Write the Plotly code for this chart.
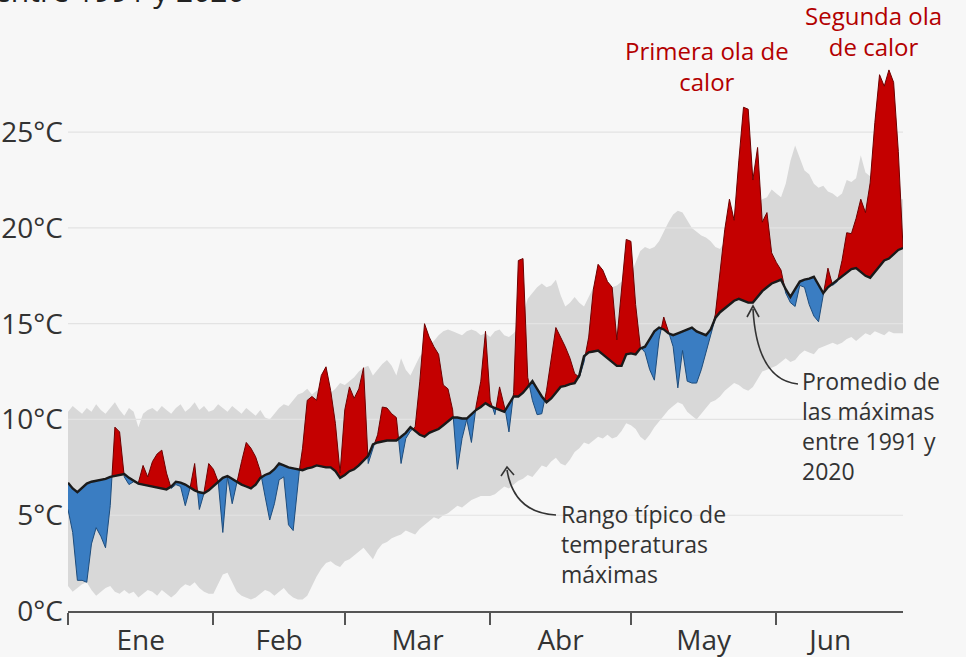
import numpy as np
import plotly.graph_objects as go

# ---------------- data ----------------
months = ["Ene", "Feb", "Mar", "Abr", "May", "Jun"]
month_start_day = [0, 31, 59, 90, 120, 151]
month_label_day = [15.5, 45, 74.5, 105, 135.5, 162.5]
y_ticks = [0, 5, 10, 15, 20, 25]
y_tick_labels = ["0°C", "5°C", "10°C", "15°C", "20°C", "25°C"]

# daily mean of maximum temperatures 1991-2020 (°C)
mean_max = [
    6.7, 6.4, 6.2, 6.4, 6.65, 6.75, 6.8, 6.85, 6.9, 7.0,
    7.05, 7.1, 7.15, 6.95, 6.8, 6.65, 6.6, 6.55, 6.5, 6.45,
    6.4, 6.35, 6.5, 6.75, 6.7, 6.6, 6.45, 6.3, 6.2, 6.15,
    6.3, 6.5, 6.75, 6.95, 7.05, 6.9, 6.75, 6.6, 6.5, 6.4,
    6.6, 6.95, 7.1, 7.2, 7.4, 7.7, 7.6, 7.5, 7.45, 7.4,
    7.35, 7.45, 7.5, 7.6, 7.55, 7.5, 7.5, 7.3, 6.95, 7.1,
    7.3, 7.4, 7.6, 7.85, 8.1, 8.7, 8.8, 8.85, 8.9, 8.9,
    8.9, 9.1, 9.3, 9.6, 9.4, 9.2, 9.1, 9.3, 9.4, 9.5,
    9.7, 9.9, 10.1, 10.1, 10.05, 10.05, 10.3, 10.5, 10.65, 10.85,
    10.7, 10.6, 10.5, 10.4, 10.8, 11.2, 11.2, 11.4, 11.7, 12.0,
    11.6, 11.2, 10.9, 11.1, 11.4, 11.7, 11.75, 11.85, 11.9, 12.3,
    13.3, 13.5, 13.55, 13.6, 13.4, 13.2, 13.0, 12.8, 12.8, 13.4,
    13.45, 13.4, 13.7, 13.8, 14.2, 14.6, 14.8, 14.7, 14.5, 14.4,
    14.5, 14.6, 14.7, 14.8, 14.6, 14.5, 14.4, 14.7, 15.3, 15.6,
    15.8, 16.0, 16.2, 16.3, 16.2, 16.1, 16.1, 16.4, 16.7, 16.9,
    17.1, 17.2, 17.3, 16.8, 16.4, 16.8, 17.2, 17.3, 17.35, 17.45,
    17.0, 16.6, 16.9, 17.1, 17.3, 17.5, 17.7, 17.85, 17.9, 17.7,
    17.5, 17.4, 17.7, 18.0, 18.3, 18.4, 18.6, 18.85, 18.95,
]

# daily maximum temperatures this year (°C)
actual_max = [
    5.3, 4.1, 1.6, 1.6, 1.5, 3.5, 4.35, 3.9, 3.3, 5.5,
    9.6, 9.35, 7.0, 6.6, 6.75, 6.7, 7.6, 7.0, 7.8, 8.2,
    8.4, 7.2, 6.4, 6.6, 6.5, 5.5, 6.4, 7.7, 5.3, 6.2,
    7.7, 7.4, 6.8, 4.1, 7.0, 5.6, 6.7, 7.8, 8.8, 8.5,
    8.05, 7.3, 6.0, 4.75, 5.6, 6.85, 7.0, 4.5, 4.2, 6.8,
    8.5, 11.0, 11.2, 11.0, 12.3, 12.75, 11.5, 9.8, 7.2, 10.5,
    11.7, 11.1, 11.6, 12.7, 7.7, 8.5, 9.2, 10.65, 10.6, 10.3,
    10.1, 7.7, 9.0, 9.4, 9.6, 12.0, 15.0, 14.3, 13.8, 13.4,
    11.8, 11.6, 10.5, 7.4, 9.0, 10.0, 8.8, 10.7, 12.0, 14.6,
    11.0, 10.25, 11.7, 10.8, 9.35, 11.4, 18.3, 18.4, 12.2, 11.0,
    10.25, 10.3, 11.5, 13.2, 14.8, 14.3, 13.8, 13.2, 12.4, 12.2,
    13.0, 14.3, 16.8, 18.1, 17.8, 17.2, 16.9, 14.15, 16.9, 19.4,
    19.3, 16.0, 13.8, 13.5, 12.6, 12.05, 14.2, 15.35, 14.6, 13.8,
    11.65, 13.6, 12.0, 11.9, 11.9, 12.6, 13.5, 14.4, 15.5, 17.8,
    19.9, 21.5, 20.4, 23.5, 26.3, 26.2, 22.5, 24.2, 20.3, 20.8,
    18.7, 18.2, 17.8, 16.6, 16.1, 15.9, 17.0, 16.9, 16.0, 15.4,
    15.1, 16.5, 17.9, 17.0, 17.2, 18.3, 19.75, 19.7, 20.5, 21.5,
    20.8, 22.35, 25.5, 28.0, 27.4, 28.25, 27.6, 24.0, 19.0,
]

# typical range of maximum temperatures (°C)
range_high = [
    10.4, 10.7, 10.5, 10.3, 10.6, 10.4, 10.8, 10.5, 10.3, 10.6, 10.9, 10.5, 10.2, 10.6, 10.4, 9.6,
    10.3, 10.5, 10.6, 10.4, 10.7, 10.5, 10.3, 10.6, 10.8, 10.4, 10.6, 10.9, 10.5, 10.7, 10.4,
    10.5, 10.8, 10.6, 10.4, 10.7, 10.5, 10.3, 10.6, 10.4, 10.2, 10.5, 10.1, 10.0, 10.3,
    10.6, 10.8, 10.7, 11.0, 11.3, 11.4, 11.6, 11.3, 11.5, 11.7, 11.5, 11.4, 11.6, 11.9,
    11.8, 12.0, 12.2, 12.5, 12.7, 12.8, 12.3, 12.6, 12.9, 13.1, 12.8, 12.3, 13.2, 12.6, 12.3, 12.8,
    13.3, 13.6, 13.9, 14.1, 14.4, 14.6, 14.7, 14.6, 14.5, 14.4, 14.6, 14.7, 14.6, 14.4, 14.5,
    14.3, 14.6, 14.7, 14.4, 14.3, 14.5, 14.8, 15.5, 16.3, 16.6, 16.9, 17.1, 16.9, 17.0, 17.3,
    16.5, 15.9, 16.1, 16.4, 16.1, 15.9, 16.4, 16.9, 16.8, 16.6, 16.7, 16.9, 17.0, 17.2, 17.4,
    17.6, 18.2, 18.8, 19.0, 18.9, 19.0, 19.3, 19.8, 20.3, 20.7, 20.9, 20.8, 20.4, 20.0, 19.8, 19.6,
    19.5, 19.3, 19.0, 18.9, 19.3, 19.8, 20.3, 20.5, 20.8, 21.0, 21.2, 21.3, 21.5, 21.6, 22.0,
    21.8, 21.6, 22.3, 23.5, 24.3, 23.6, 23.0, 22.8, 22.3, 22.1, 22.2, 21.9, 21.8, 21.6,
    21.8, 22.5, 22.4, 22.6, 23.8, 22.9, 22.7, 22.4, 22.0, 21.8, 21.7, 21.6, 21.5, 21.5,
]
range_low = [
    1.3, 1.0, 1.2, 1.4, 1.5, 1.1, 0.8, 1.0, 1.2, 1.3, 1.0, 0.9, 1.1, 0.9, 1.0, 0.7,
    0.9, 1.1, 1.0, 0.8, 1.1, 0.9, 0.7, 0.9, 1.2, 1.4, 1.3, 1.5, 1.2, 1.0, 0.9,
    0.9, 1.4, 1.9, 2.0, 1.5, 1.0, 0.8, 0.7, 0.6, 0.7, 0.9, 1.1, 1.0, 0.8,
    1.0, 1.2, 0.9, 0.7, 0.6, 0.6, 0.8, 1.3, 1.8, 2.2, 2.5, 2.6, 2.4, 2.3,
    2.6, 2.7, 2.9, 3.1, 3.3, 3.0, 2.7, 3.2, 3.5, 3.6, 3.8, 3.9, 4.0, 4.2, 4.1, 4.0,
    4.3, 4.5, 4.7, 4.9, 4.8, 5.0, 5.1, 5.3, 5.5, 5.4, 5.6, 5.8, 5.9, 6.0, 6.0,
    6.0, 6.1, 6.3, 6.5, 6.4, 6.6, 6.8, 6.9, 7.1, 7.0, 7.3, 7.6, 7.5, 7.8, 8.0,
    7.7, 7.6, 7.9, 8.3, 8.5, 8.8, 8.7, 8.9, 9.1, 9.0, 9.2, 9.0, 9.1, 9.4, 9.8,
    9.7, 9.5, 9.1, 8.9, 9.2, 9.6, 9.9, 10.2, 10.5, 10.7, 10.9, 10.8, 10.4, 10.2, 10.0, 10.3,
    10.6, 10.9, 11.0, 11.2, 11.5, 11.7, 11.9, 11.8, 11.6, 11.5, 11.7, 12.1, 12.5, 12.6, 12.7,
    12.8, 13.0, 13.2, 13.0, 13.1, 13.4, 13.6, 13.5, 13.4, 13.7, 13.8, 13.9, 14.0, 13.9,
    14.0, 14.2, 14.3, 14.1, 14.3, 14.5, 14.4, 14.6, 14.5, 14.4, 14.6, 14.5, 14.5, 14.5,
]

# ---------------- derived geometry ----------------
n = len(mean_max)
days = np.arange(n, dtype=float)
last_day = days[-1]

# insert the points where the daily value crosses the average so the fills split cleanly
xs, ms, acts = [], [], []
for i in range(n):
    xs.append(days[i]); ms.append(mean_max[i]); acts.append(actual_max[i])
    if i < n - 1:
        d0 = actual_max[i] - mean_max[i]
        d1 = actual_max[i + 1] - mean_max[i + 1]
        if d0 * d1 < 0:
            t = d0 / (d0 - d1)
            mv = mean_max[i] + t * (mean_max[i + 1] - mean_max[i])
            xs.append(days[i] + t); ms.append(mv); acts.append(mv)
xs = np.array(xs); ms = np.array(ms); acts = np.array(acts)
above = np.maximum(acts, ms)
below = np.minimum(acts, ms)

# ---------------- layout helpers (pixel -> data / paper) ----------------
W, H = 966, 657
L, R, T, B = 68, 63, 0, 46
plot_w = W - L - R
plot_h = H - T - B
Y_MAX = 31.9


def px_x(px):
    return (px - L) / plot_w * last_day


def px_y(py):
    return (H - B - py) / plot_h * Y_MAX


def paper_x(px):
    return (px - L) / plot_w


def paper_y(py):
    return (H - B - py) / plot_h


BG = "#f7f7f7"
GREY = "#d8d8d8"
RED = "#c40000"
BLUE = "#3a7dc2"
TXT = "#333333"
FONT = "Open Sans"

fig = go.Figure()

fig.add_trace(go.Scatter(x=days, y=range_low, mode="lines", line=dict(width=0),
                         hoverinfo="skip", showlegend=False))
fig.add_trace(go.Scatter(x=days, y=range_high, mode="lines", line=dict(width=0),
                         fill="tonexty", fillcolor=GREY, hoverinfo="skip", showlegend=False))

for v in y_ticks[1:]:
    fig.add_trace(go.Scatter(x=[0, last_day], y=[v, v], mode="lines",
                             line=dict(color="#e3e3e3", width=1.2),
                             hoverinfo="skip", showlegend=False))

fig.add_trace(go.Scatter(x=xs, y=ms, mode="lines", line=dict(width=0),
                         hoverinfo="skip", showlegend=False))
fig.add_trace(go.Scatter(x=xs, y=above, mode="lines", line=dict(color="#6e0000", width=1),
                         fill="tonexty", fillcolor=RED, hoverinfo="skip", showlegend=False))
fig.add_trace(go.Scatter(x=xs, y=ms, mode="lines", line=dict(width=0),
                         hoverinfo="skip", showlegend=False))
fig.add_trace(go.Scatter(x=xs, y=below, mode="lines", line=dict(color="#1d4c7c", width=1),
                         fill="tonexty", fillcolor=BLUE, hoverinfo="skip", showlegend=False))
fig.add_trace(go.Scatter(x=days, y=mean_max, mode="lines", line=dict(color="#1a1a1a", width=2.4),
                         hoverinfo="skip", showlegend=False))

# curved arrows
arrow_style = dict(color="#333333", width=1.6)
a1 = [(798, 384), (757, 380), (753, 309)]
a2 = [(556, 515), (514, 513), (507, 470)]
for (p0, c, p1), head in [
    (a1, [(747, 317), (753, 306), (759, 317)]),
    (a2, [(501, 476), (507, 467), (514, 475)]),
]:
    path = "M {} {} Q {} {} {} {}".format(px_x(p0[0]), px_y(p0[1]), px_x(c[0]), px_y(c[1]),
                                          px_x(p1[0]), px_y(p1[1]))
    fig.add_shape(type="path", path=path, xref="x", yref="y", line=arrow_style, layer="above")
    hp = "M {} {} L {} {} L {} {}".format(px_x(head[0][0]), px_y(head[0][1]),
                                          px_x(head[1][0]), px_y(head[1][1]),
                                          px_x(head[2][0]), px_y(head[2][1]))
    fig.add_shape(type="path", path=hp, xref="x", yref="y", line=arrow_style, layer="above")

annots = [
    dict(text="Primera ola de<br>calor", x=paper_x(707), y=paper_y(66), xanchor="center",
         yanchor="middle", align="center", font=dict(color="#b30000", size=24, family=FONT)),
    dict(text="Segunda ola<br>de calor", x=paper_x(873), y=paper_y(31), xanchor="center",
         yanchor="middle", align="center", font=dict(color="#b30000", size=24, family=FONT)),
    dict(text="Promedio de<br>las máximas<br>entre 1991 y<br>2020", x=paper_x(800), y=paper_y(426),
         xanchor="left", yanchor="middle", align="left", font=dict(color=TXT, size=23, family=FONT)),
    dict(text="Rango típico de<br>temperaturas<br>máximas", x=paper_x(559), y=paper_y(544),
         xanchor="left", yanchor="middle", align="left", font=dict(color=TXT, size=23, family=FONT)),
    dict(text="entre 1991 y 2020", x=paper_x(-8), y=paper_y(-9), xanchor="left", yanchor="middle",
         align="left", font=dict(color="#222222", size=30, family=FONT)),
]
for a in annots:
    fig.add_annotation(xref="paper", yref="paper", showarrow=False, **a)

fig.update_layout(
    width=W, height=H,
    margin=dict(l=L, r=R, t=T, b=B, pad=0),
    paper_bgcolor=BG, plot_bgcolor=BG,
    showlegend=False,
    font=dict(family=FONT, color=TXT),
)
fig.update_xaxes(
    range=[0, last_day], showgrid=False, zeroline=False,
    showline=True, linecolor="#555555", linewidth=1.5,
    tickmode="array", tickvals=month_label_day, ticktext=months, ticks="",
    ticklabelstandoff=4,
    tickfont=dict(size=28, color=TXT, family=FONT),
    minor=dict(tickmode="array", tickvals=month_start_day, ticks="outside", ticklen=12,
               tickcolor="#555555", tickwidth=1.5, showgrid=False),
    fixedrange=True,
)
fig.update_yaxes(
    range=[0, Y_MAX], showgrid=False, zeroline=False, showline=False,
    tickmode="array", tickvals=y_ticks, ticktext=y_tick_labels, ticks="",
    ticklabelstandoff=4,
    tickfont=dict(size=28, color=TXT, family=FONT),
    fixedrange=True,
)

fig.write_html("out.html")
